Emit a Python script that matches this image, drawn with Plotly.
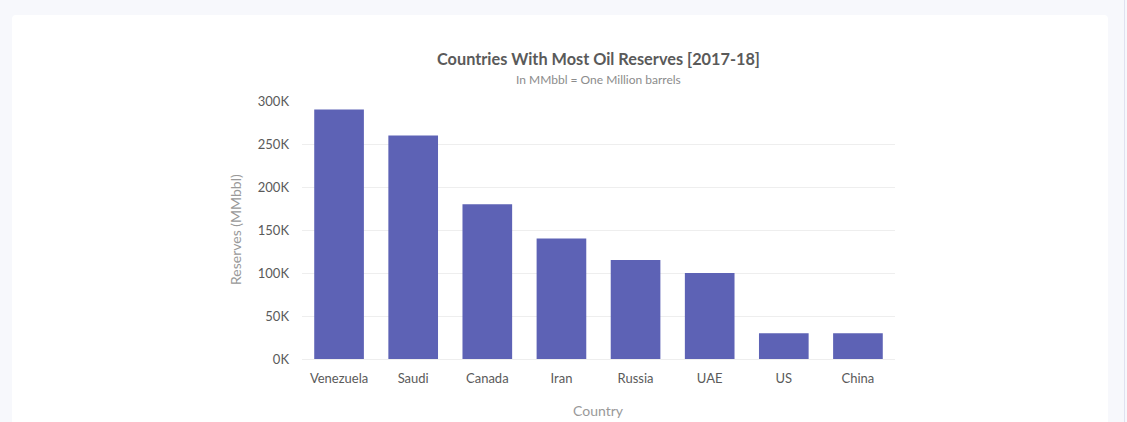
import plotly.graph_objects as go

countries = ["Venezuela", "Saudi", "Canada", "Iran", "Russia", "UAE", "US", "China"]
reserves = [290000, 260000, 180000, 140000, 115000, 100000, 30000, 30000]
tick_vals = [0, 50000, 100000, 150000, 200000, 250000, 300000]
tick_text = ["0K", "50K", "100K", "150K", "200K", "250K", "300K"]

W, H = 1127, 422
L, R, T, B = 302, 895, 101, 359

def px(x):
    return (x - L) / (R - L)

def py(y):
    return (B - y) / (B - T)

FONT = "Lato"

fig = go.Figure()
fig.add_trace(go.Bar(
    x=countries, y=reserves,
    marker=dict(color="#5d62b5", line=dict(width=0)),
    hoverinfo="x+y",
))

# white card with rounded top corners
x0, x1, y0, y1, r = px(12), px(1108), py(15), py(440), 4 / (R - L)
ry = 4 / (B - T)
card_path = (f"M {x0},{y1} L {x0},{y0 - ry} Q {x0},{y0} {x0 + r},{y0} "
             f"L {x1 - r},{y0} Q {x1},{y0} {x1},{y0 - ry} L {x1},{y1} Z")

fig.update_layout(
    width=W, height=H,
    margin=dict(l=L, r=W - R, t=T, b=H - B, pad=0),
    paper_bgcolor="#f7f8fc",
    plot_bgcolor="rgba(0,0,0,0)",
    font=dict(family=FONT, color="#5a5a5a", size=13),
    bargap=0.33,
    showlegend=False,
    shapes=[
        dict(type="path", xref="paper", yref="paper", path=card_path,
             fillcolor="#ffffff", line=dict(width=0), layer="below"),
        dict(type="line", xref="paper", yref="paper",
             x0=px(1124.5), x1=px(1124.5), y0=py(0), y1=py(422),
             line=dict(color="#dfe1f0", width=1)),
    ],
    annotations=[
        dict(text="<b>Countries With Most Oil Reserves [2017-18]</b>", xref="paper", yref="paper",
             x=0.5, y=py(59), xanchor="center", yanchor="middle", showarrow=False,
             font=dict(family=FONT, size=16.3, color="#5a5a5a")),
        dict(text="In MMbbl = One Million barrels", xref="paper", yref="paper",
             x=0.5, y=py(79), xanchor="center", yanchor="middle", showarrow=False,
             font=dict(family=FONT, size=12, color="#8c8c8c")),
        dict(text="Reserves (MMbbl)", xref="paper", yref="paper",
             x=px(235), y=py(230), xanchor="center", yanchor="middle", showarrow=False,
             textangle=-90, font=dict(family=FONT, size=14, color="#999999")),
        dict(text="Country", xref="paper", yref="paper",
             x=0.5, y=py(410), xanchor="center", yanchor="middle", showarrow=False,
             font=dict(family=FONT, size=14, color="#999999")),
    ],
    xaxis=dict(showgrid=False, showline=False, zeroline=False, ticks="",
               tickfont=dict(family=FONT, size=13, color="#5a5a5a"),
               ticklabelstandoff=10),
    yaxis=dict(range=[0, 300000], tickvals=tick_vals, ticktext=tick_text,
               showgrid=True, gridcolor="#eeeeee", gridwidth=1,
               zeroline=True, zerolinecolor="#eeeeee", zerolinewidth=1,
               showline=False, ticks="",
               tickfont=dict(family=FONT, size=13, color="#5a5a5a"),
               ticklabelstandoff=12),
)

fig.write_html(
    "out.html",
    config={"displayModeBar": False},
    post_script="document.body.style.margin='0';document.body.style.background='#f7f8fc';document.body.style.overflow='hidden';",
)
